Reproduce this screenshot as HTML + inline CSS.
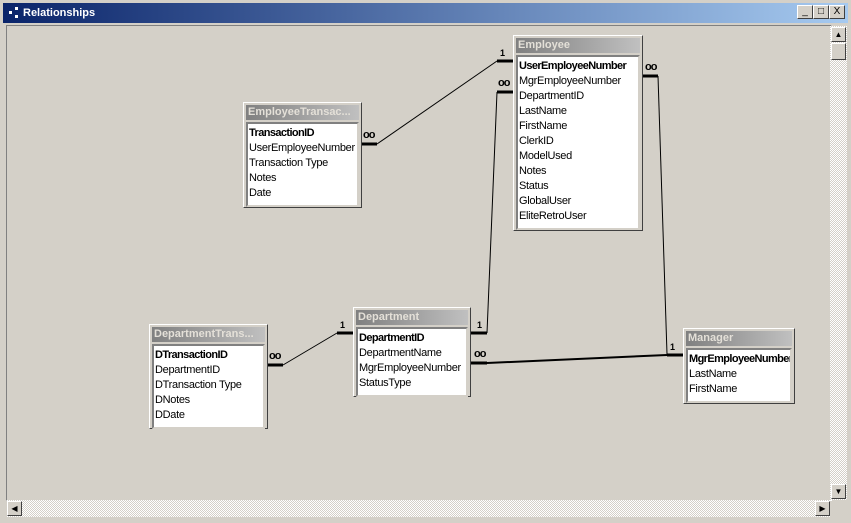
<!DOCTYPE html>
<html><head><style>
body{margin:0;width:851px;height:523px;overflow:hidden;background:#d4d0c8;font-family:"Liberation Sans",sans-serif;position:relative}
.title{position:absolute;left:3px;top:3px;width:845px;height:20px;background:linear-gradient(to right,#0a246a,#a6caf0);color:#fff;font-weight:bold;font-size:11px;line-height:20px}
.title span{position:absolute;left:20px}
.btn{position:absolute;top:5px;width:14px;height:12px;background:#d4d0c8;border:1px solid;border-color:#fff #404040 #404040 #fff;font-size:10px;line-height:12px;text-align:center;color:#000}
.client{position:absolute;left:6px;top:25px;width:824px;height:474px;border:1px solid;border-color:#808080 #fff #fff #808080;background:#d4d0c8}
.vs{position:absolute;left:830px;top:26px;width:17px;height:474px;background:repeating-conic-gradient(#d4d0c8 0 25%,#fff 0 50%) 0 0/2px 2px}
.hs{position:absolute;left:7px;top:500px;width:823px;height:17px;background:repeating-conic-gradient(#d4d0c8 0 25%,#fff 0 50%) 0 0/2px 2px}
.sb{position:absolute;width:15px;height:15px;background:#d4d0c8;border:1px solid;border-color:#fff #404040 #404040 #fff;box-sizing:border-box;font-size:8px;text-align:center;line-height:14px}
.t{position:absolute;background:#d4d0c8;border:1px solid;border-color:#fff #404040 #404040 #fff;box-sizing:border-box;padding:2px}
.t .h{height:15px;background:linear-gradient(to right,#808080,#c0c0c0);color:#e4e0d8;font-weight:bold;font-size:11px;line-height:15px;padding-left:2px;white-space:nowrap;overflow:hidden}
.t .l{margin-top:2px;background:#fff;border:2px solid;border-color:#808080 #d4d0c8 #d4d0c8 #808080;padding:2px 0 4px 1px;font-size:11px;letter-spacing:-0.3px;line-height:15px;white-space:nowrap;overflow:hidden}
.t .l b{display:block;letter-spacing:-0.6px}
svg{position:absolute;left:0;top:0}
.lb{position:absolute;font-size:9px;font-weight:bold}
.inf{position:absolute;font-size:11px;font-weight:bold;letter-spacing:-1px}
</style></head><body>
<div class="title"><span>Relationships</span><svg width="20" height="20" style="left:4px"><rect x="2" y="8" width="3" height="3" fill="#fff"/><rect x="8" y="4" width="3" height="3" fill="#fff"/><rect x="8" y="12" width="3" height="3" fill="#fff"/></svg></div>
<div class="btn" style="left:797px">_</div><div class="btn" style="left:813px">□</div><div class="btn" style="left:829px">X</div>
<div class="client"></div>
<div class="vs"></div><div class="hs"></div>
<div class="sb" style="left:831px;top:27px">▲</div><div class="sb" style="left:831px;top:484px">▼</div>
<div class="sb" style="left:7px;top:501px">◀</div><div class="sb" style="left:815px;top:501px">▶</div>
<div class="sb" style="left:831px;top:43px;height:17px"></div>
<svg width="851" height="523">
<g stroke="#000" fill="none">
<path d="M377 144 L497 61" stroke-width="1"/>
<path d="M497 92 L487 333" stroke-width="1"/>
<path d="M658 76 L667 354" stroke-width="1"/>
<path d="M487 363 L667 355" stroke-width="2"/>
<path d="M283 365 L337 333" stroke-width="1"/>
<g stroke-width="3">
<path d="M361 144H377M497 61H513M497 92H513M471 333H487M642 76H658M667 355H683M471 363H487M267 365H283M337 333H353"/>
</g></g></svg>
<div class="inf" style="left:363px;top:129px">oo</div>
<div class="lb" style="left:500px;top:48px">1</div>
<div class="inf" style="left:498px;top:77px">oo</div>
<div class="inf" style="left:645px;top:61px">oo</div>
<div class="lb" style="left:477px;top:320px">1</div>
<div class="inf" style="left:474px;top:348px">oo</div>
<div class="lb" style="left:670px;top:342px">1</div>
<div class="inf" style="left:269px;top:350px">oo</div>
<div class="lb" style="left:340px;top:320px">1</div>

<div class="t" style="left:513px;top:35px;width:130px;height:196px"><div class="h">Employee</div><div class="l"><b>UserEmployeeNumber</b>MgrEmployeeNumber<br>DepartmentID<br>LastName<br>FirstName<br>ClerkID<br>ModelUsed<br>Notes<br>Status<br>GlobalUser<br>EliteRetroUser</div></div>
<div class="t" style="left:243px;top:102px;width:119px;height:106px"><div class="h">EmployeeTransac...</div><div class="l"><b>TransactionID</b>UserEmployeeNumber<br>Transaction Type<br>Notes<br>Date</div></div>
<div class="t" style="left:149px;top:324px;width:119px;height:105px"><div class="h">DepartmentTrans...</div><div class="l"><b>DTransactionID</b>DepartmentID<br>DTransaction Type<br>DNotes<br>DDate</div></div>
<div class="t" style="left:353px;top:307px;width:118px;height:90px"><div class="h">Department</div><div class="l"><b>DepartmentID</b>DepartmentName<br>MgrEmployeeNumber<br>StatusType</div></div>
<div class="t" style="left:683px;top:328px;width:112px;height:76px"><div class="h">Manager</div><div class="l"><b>MgrEmployeeNumber</b>LastName<br>FirstName</div></div>
</body></html>
